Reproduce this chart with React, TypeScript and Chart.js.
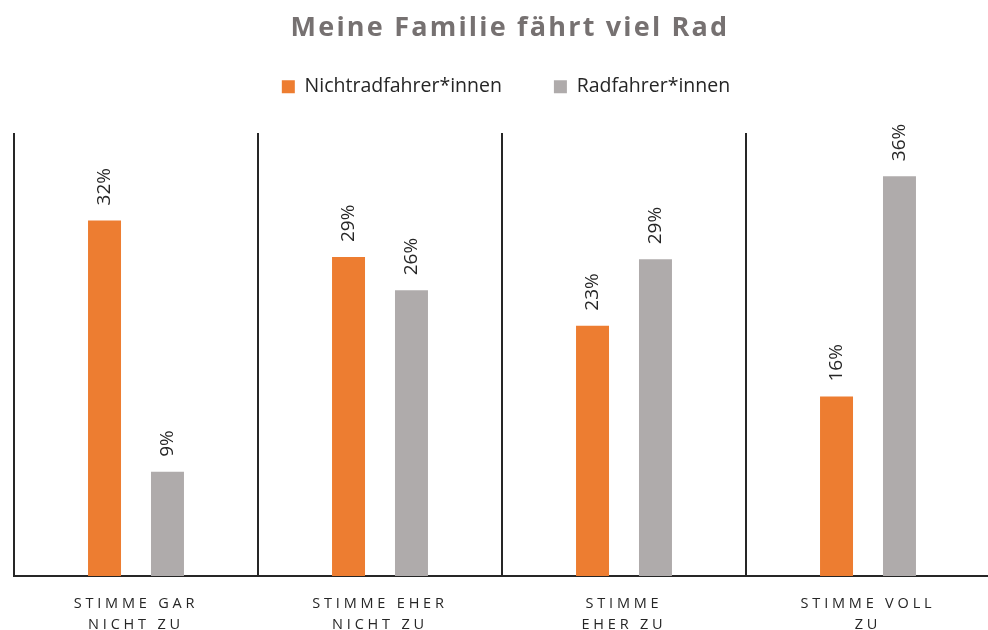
import React, { useEffect, useRef } from "react";
import { Chart, registerables } from "chart.js";

Chart.register(...registerables);

const chartTitle = "Meine Familie fährt viel Rad";
const categories = [
  ["STIMME GAR", "NICHT ZU"],
  ["STIMME EHER", "NICHT ZU"],
  ["STIMME", "EHER ZU"],
  ["STIMME VOLL", "ZU"],
];
const seriesNames = ["Nichtradfahrer*innen", "Radfahrer*innen"];
const nichtradfahrer = [32.1, 28.8, 22.6, 16.2];
const radfahrer = [9.4, 25.8, 28.6, 36.1];
const seriesColors = ["#ED7D31", "#AFABAB"];

const FONT = "'Open Sans', sans-serif";
const DARK = "#262626";

const customPlugin = {
  id: "custom",
  beforeInit(chart: any) {
    const legend = chart.legend;
    if (legend) {
      const origFit = legend.fit;
      legend.fit = function () {
        origFit.call(this);
        this.height = 108;
      };
    }
  },
  afterLayout(chart: any) {
    const legend = chart.legend;
    if (legend) {
      legend.left += 4;
      legend.right += 4;
    }
  },
  afterDatasetsDraw(chart: any) {
    const ctx = chart.ctx;
    ctx.save();
    ctx.fillStyle = DARK;
    ctx.font = `19px ${FONT}`;
    ctx.textAlign = "left";
    ctx.textBaseline = "middle";
    chart.data.datasets.forEach((ds: any, di: number) => {
      const meta = chart.getDatasetMeta(di);
      meta.data.forEach((el: any, i: number) => {
        const v = ds.data[i];
        ctx.save();
        ctx.translate(el.x, el.y - 15);
        ctx.rotate(-Math.PI / 2);
        ctx.fillText(Math.round(v) + "%", 0, 0);
        ctx.restore();
      });
    });
    ctx.restore();
    // letter spacing for the x axis labels drawn afterwards (ticks z: 1)
    try {
      ctx.letterSpacing = "3.8px";
    } catch (e) {}
  },
  afterDraw(chart: any) {
    const ctx = chart.ctx;
    try {
      ctx.letterSpacing = "0px";
    } catch (e) {}
    ctx.save();
    try {
      ctx.letterSpacing = "2.2px";
    } catch (e) {}
    ctx.fillStyle = "#767171";
    ctx.font = `bold 27px ${FONT}`;
    ctx.textAlign = "center";
    ctx.textBaseline = "middle";
    ctx.fillText(chartTitle, 510, 28);
    ctx.restore();
    try {
      ctx.letterSpacing = "0px";
    } catch (e) {}
  },
};

export default function App() {
  const ref = useRef<HTMLCanvasElement | null>(null);
  useEffect(() => {
    if (!ref.current) return;
    const chart = new Chart(ref.current, {
      type: "bar",
      data: {
        labels: categories,
        datasets: [
          {
            label: seriesNames[0],
            data: nichtradfahrer,
            backgroundColor: seriesColors[0],
            barPercentage: 0.524,
            categoryPercentage: 0.516,
          },
          {
            label: seriesNames[1],
            data: radfahrer,
            backgroundColor: seriesColors[1],
            barPercentage: 0.524,
            categoryPercentage: 0.516,
          },
        ],
      },
      options: {
        animation: false,
        responsive: true,
        maintainAspectRatio: false,
        layout: { padding: { top: 25, left: 14, right: 22, bottom: 0 } },
        plugins: {
          title: { display: false },
          tooltip: { enabled: false },
          legend: {
            position: "top",
            labels: {
              boxWidth: 13,
              boxHeight: 13,
              padding: 52,
              color: DARK,
              font: { family: FONT, size: 19.5 },
            },
          },
        },
        scales: {
          x: {
            grid: { offset: true, color: DARK, lineWidth: 2, drawTicks: false },
            border: { color: DARK, width: 2 },
            ticks: {
              z: 1,
              color: DARK,
              font: { family: FONT, size: 14.5, lineHeight: 1.45 },
              padding: 17,
              maxRotation: 0,
              autoSkip: false,
            },
          },
          y: { display: false, min: 0, max: 40 },
        },
      },
      plugins: [customPlugin],
    });
    return () => chart.destroy();
  }, []);
  return (
    <div
      style={{
        position: "fixed",
        left: 0,
        top: 0,
        width: 988,
        height: 630,
        overflow: "hidden",
        background: "#fff",
      }}
    >
      <div style={{ width: 1012, height: 652, position: "relative" }}>
        <canvas ref={ref} />
      </div>
    </div>
  );
}
